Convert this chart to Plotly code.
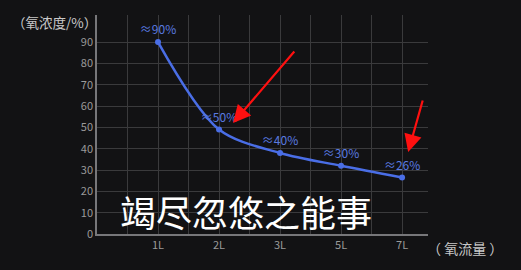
import plotly.graph_objects as go

categories = ["1L", "2L", "3L", "5L", "7L"]
oxygen_pct = [90, 49, 38, 32, 26.5]
point_labels = ["≈90%", "≈50%", "≈40%", "≈30%", "≈26%"]
y_ticks = [0, 10, 20, 30, 40, 50, 60, 70, 80, 90]
overlay_text = "竭尽忽悠之能事"
y_title = "（氧浓度/%）"
x_title = "（ 氧流量 ）"

x_pos = [2 * (i + 1) for i in range(len(categories))]

BG = "#121214"
GRID = "#3a3a3c"
AXIS = "#77777a"
BLUE = "#4a6ee6"
LBL = "#5a7be0"
FONT = "Noto Sans CJK SC, Noto Sans, sans-serif"

fig = go.Figure()
fig.add_trace(go.Scatter(
    x=x_pos, y=oxygen_pct, mode="lines+markers+text",
    line=dict(color=BLUE, width=2.5, shape="spline", smoothing=0.9),
    marker=dict(color=BLUE, size=6),
    text=point_labels, textposition="top center",
    textfont=dict(color=LBL, size=12, family=FONT),
    cliponaxis=False, hoverinfo="skip",
))

annotations = [
    dict(x=0, y=1.0, xref="paper", yref="paper", xanchor="right", yanchor="middle",
         xshift=2, yshift=-7, text=y_title, showarrow=False,
         font=dict(color="#c8c8c8", size=13.5, family=FONT)),
    dict(x=1.0, y=0, xref="paper", yref="paper", xanchor="left", yanchor="middle",
         xshift=-3, yshift=-14, text=x_title, showarrow=False,
         font=dict(color="#c8c8c8", size=14, family=FONT)),
    dict(x=4.89, y=11.0, xref="x", yref="y", text=overlay_text, showarrow=False,
         font=dict(color="#ffffff", size=36, family=FONT)),
    dict(x=4.46, y=52.0, ax=6.51, ay=86.3, xref="x", yref="y", axref="x", ayref="y",
         showarrow=True, arrowhead=2, arrowsize=1.6, arrowwidth=2.2, arrowcolor="#ff1010",
         text=""),
    dict(x=10.2, y=38.4, ax=10.69, ay=63.3, xref="x", yref="y", axref="x", ayref="y",
         showarrow=True, arrowhead=2, arrowsize=1.6, arrowwidth=2.2, arrowcolor="#ff1010",
         text=""),
]

fig.update_layout(
    width=521, height=270,
    margin=dict(l=97, r=93, t=15, b=36),
    paper_bgcolor=BG, plot_bgcolor=BG,
    showlegend=False,
    annotations=annotations,
    xaxis=dict(
        range=[0, 10.85], tickvals=x_pos, ticktext=categories,
        showgrid=True, gridcolor=GRID, gridwidth=1,
        minor=dict(dtick=1, tick0=0, showgrid=True, gridcolor=GRID, gridwidth=1),
        showline=True, linecolor=AXIS, linewidth=1.5,
        zeroline=False, ticks="",
        tickfont=dict(color="#9a9a9a", size=11, family=FONT),
        fixedrange=True,
    ),
    yaxis=dict(
        range=[0, 102.7], tickvals=y_ticks,
        showgrid=True, gridcolor=GRID, gridwidth=1,
        showline=True, linecolor=AXIS, linewidth=1.5,
        zeroline=False, ticks="",
        tickfont=dict(color="#9a9a9a", size=11, family=FONT),
        fixedrange=True,
    ),
)

fig.write_html("out.html")
